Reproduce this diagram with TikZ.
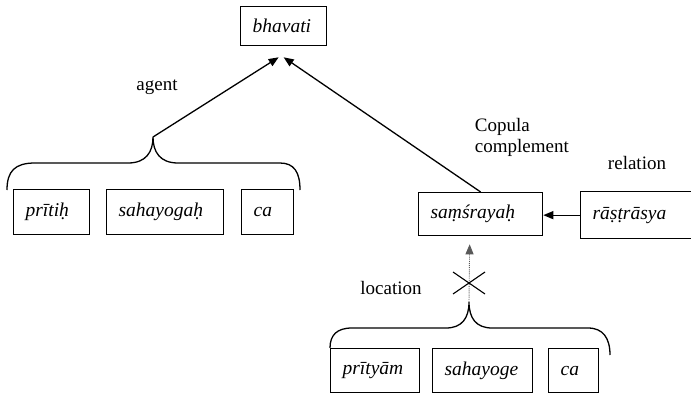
\documentclass[tikz,border=0pt]{standalone}
\usepackage{fontspec}
\setmainfont{Liberation Serif}
\usetikzlibrary{arrows.meta}

\begin{document}
\begin{tikzpicture}[x=1pt, y=-1pt, line width=1.3pt,
  word/.style={draw, anchor=north west, inner xsep=12pt, inner ysep=0pt,
    align=left, font=\fontsize{19.5}{22}\selectfont\itshape},
  lbl/.style={font=\fontsize{19}{22}\selectfont},
  arr/.style={-{Triangle[length=10pt,width=8pt]}},
  brace/.style={line width=1.3pt}]
  \clip (0,0) rectangle (691,394);

  % words
  \node[word, text width=62pt,  minimum height=39pt] (bhavati)   at (240,6)   {bhavati};
  \node[word, text width=52pt,  minimum height=45pt] (pritih)    at (13,189)  {prītiḥ};
  \node[word, text width=93pt,  minimum height=45pt] (sahayogah) at (106,189) {sahayogaḥ};
  \node[word, text width=28pt,  minimum height=45pt] (caA)       at (241,189) {ca};
  \node[word, text width=100pt, minimum height=43pt] (samsrayah) at (418,192) {saṃśrayaḥ};
  \node[word, text width=106pt, minimum height=47pt] (rastrasya) at (580,191) {rāṣṭrāsya};
  \node[word, text width=65pt,  minimum height=44pt] (prityam)   at (330,348) {prītyām};
  \node[word, text width=76pt,  minimum height=44pt] (sahayoge)  at (432,348) {sahayoge};
  \node[word, text width=26pt,  minimum height=44pt] (caB)       at (548,348) {ca};

  % relation labels
  \node[lbl] (agent) at (157,87) {agent};
  \node[lbl, anchor=west] (copula) at (471,127) {Copula};
  \node[lbl, anchor=west] (compl)  at (471,148) {complement};
  \node[lbl] (relation) at (637,163) {relation};
  \node[lbl] (location) at (391,288) {location};

  % brace over the first group
  \coordinate (tipA) at (153,137);
  \draw[brace] (7,190) .. controls (7,171) and (15,163) .. (35,163)
    -- (128,163) .. controls (146,163) and (153,152) .. (tipA)
    .. controls (153,152) and (160,163) .. (178,163)
    -- (280,163) .. controls (294,163) and (300,172) .. (300,190);

  % brace over the second group
  \coordinate (tipB) at (469,302);
  \draw[brace] (330,348) .. controls (330,335) and (337,328) .. (352,328)
    -- (446,328) .. controls (462,328) and (469,318) .. (tipB)
    .. controls (469,318) and (476,328) .. (492,328)
    -- (588,328) .. controls (603,328) and (610,338) .. (610,355);

  % arrows into the verb
  \coordinate (bhL) at ([shift={(-5,11)}]bhavati.south);
  \coordinate (bhR) at ([shift={(0,11)}]bhavati.south);
  \draw[arr] (tipA) -- (bhL);
  \draw[arr] (samsrayah.north) -- (bhR);

  % genitive relation
  \draw[arr] (rastrasya.west) -- (rastrasya.west -| samsrayah.east);

  % rejected location link
  \coordinate (smB) at ([shift={(-11,8)}]samsrayah.south);
  \draw[arr, densely dotted, line width=0.9pt, gray!70!black] (tipB) -- (smB);
  \coordinate (cross) at (469,283);
  \draw[line width=1.1pt] ([shift={(-16,-11)}]cross) -- ([shift={(16,11)}]cross)
                          ([shift={(-16,11)}]cross) -- ([shift={(16,-11)}]cross);
\end{tikzpicture}
\end{document}
